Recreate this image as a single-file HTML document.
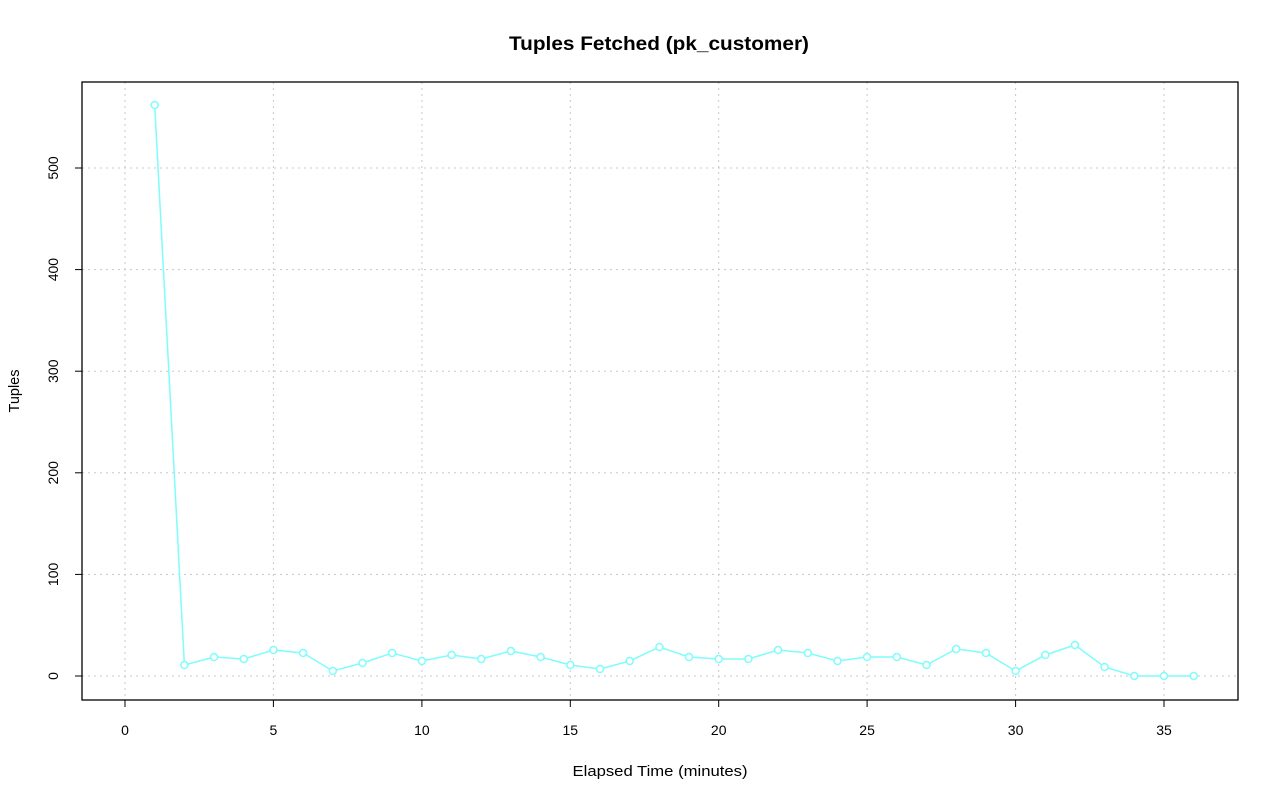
<!DOCTYPE html>
<html><head><meta charset="utf-8"><style>body{margin:0;background:#fff}svg{display:block}</style></head><body>
<svg width="1280" height="801" xmlns="http://www.w3.org/2000/svg" font-family="Liberation Sans, sans-serif">
<rect width="1280" height="801" fill="#fff"/>
<text x="659" y="50" text-anchor="middle" font-size="19.5" font-weight="bold" textLength="300" lengthAdjust="spacingAndGlyphs">Tuples Fetched (pk_customer)</text>
<g stroke="#c8c8c8" stroke-dasharray="2,4" stroke-width="1">
<line x1="125" y1="82" x2="125" y2="700"/><line x1="273.4" y1="82" x2="273.4" y2="700"/><line x1="421.9" y1="82" x2="421.9" y2="700"/><line x1="570.3" y1="82" x2="570.3" y2="700"/><line x1="718.7" y1="82" x2="718.7" y2="700"/><line x1="867.1" y1="82" x2="867.1" y2="700"/><line x1="1015.6" y1="82" x2="1015.6" y2="700"/><line x1="1164" y1="82" x2="1164" y2="700"/>
<line x1="82" y1="676" x2="1238" y2="676"/><line x1="82" y1="574.4" x2="1238" y2="574.4"/><line x1="82" y1="472.8" x2="1238" y2="472.8"/><line x1="82" y1="371.2" x2="1238" y2="371.2"/><line x1="82" y1="269.6" x2="1238" y2="269.6"/><line x1="82" y1="168" x2="1238" y2="168"/>
</g>
<rect x="82" y="82" width="1156" height="618" fill="none" stroke="#000" stroke-width="1.3"/>
<g stroke="#000"><line x1="125" y1="700" x2="1164" y2="700"/>
<line x1="125" y1="700" x2="125" y2="707"/><line x1="273.4" y1="700" x2="273.4" y2="707"/><line x1="421.9" y1="700" x2="421.9" y2="707"/><line x1="570.3" y1="700" x2="570.3" y2="707"/><line x1="718.7" y1="700" x2="718.7" y2="707"/><line x1="867.1" y1="700" x2="867.1" y2="707"/><line x1="1015.6" y1="700" x2="1015.6" y2="707"/><line x1="1164" y1="700" x2="1164" y2="707"/>
<line x1="82" y1="676" x2="82" y2="168"/>
<line x1="75" y1="676" x2="82" y2="676"/><line x1="75" y1="574.4" x2="82" y2="574.4"/><line x1="75" y1="472.8" x2="82" y2="472.8"/><line x1="75" y1="371.2" x2="82" y2="371.2"/><line x1="75" y1="269.6" x2="82" y2="269.6"/><line x1="75" y1="168" x2="82" y2="168"/></g>
<g font-size="14" text-anchor="middle">
<text x="125" y="735">0</text><text x="273.4" y="735">5</text><text x="421.9" y="735">10</text><text x="570.3" y="735">15</text><text x="718.7" y="735">20</text><text x="867.1" y="735">25</text><text x="1015.6" y="735">30</text><text x="1164" y="735">35</text>
<text transform="translate(58,676) rotate(-90)">0</text><text transform="translate(58,574.4) rotate(-90)">100</text><text transform="translate(58,472.8) rotate(-90)">200</text><text transform="translate(58,371.2) rotate(-90)">300</text><text transform="translate(58,269.6) rotate(-90)">400</text><text transform="translate(58,168) rotate(-90)">500</text>
<text x="660" y="776" font-size="14.5" textLength="175" lengthAdjust="spacingAndGlyphs">Elapsed Time (minutes)</text>
<text transform="translate(19,391) rotate(-90)" font-size="14.5">Tuples</text>
</g>
<g stroke="#7ffcfc" stroke-width="1.5" fill="#fff">
<polyline fill="none" points="154.7,105 184.4,665 214.1,657 243.8,659 273.4,650 303.1,653 332.8,671 362.5,663 392.2,653 421.9,661 451.6,655 481.2,659 510.9,651 540.6,657 570.3,665 600,669 629.7,661 659.4,647 689,657 718.7,659 748.4,659 778.1,650 807.8,653 837.5,661 867.1,657 896.8,657 926.5,665 956.2,649 985.9,653 1015.6,671 1045.3,655 1074.9,645 1104.6,667 1134.3,676 1164,676 1193.7,676"/>
<circle cx="154.7" cy="105" r="3.5"/><circle cx="184.4" cy="665" r="3.5"/><circle cx="214.1" cy="657" r="3.5"/><circle cx="243.8" cy="659" r="3.5"/><circle cx="273.4" cy="650" r="3.5"/><circle cx="303.1" cy="653" r="3.5"/><circle cx="332.8" cy="671" r="3.5"/><circle cx="362.5" cy="663" r="3.5"/><circle cx="392.2" cy="653" r="3.5"/><circle cx="421.9" cy="661" r="3.5"/><circle cx="451.6" cy="655" r="3.5"/><circle cx="481.2" cy="659" r="3.5"/><circle cx="510.9" cy="651" r="3.5"/><circle cx="540.6" cy="657" r="3.5"/><circle cx="570.3" cy="665" r="3.5"/><circle cx="600" cy="669" r="3.5"/><circle cx="629.7" cy="661" r="3.5"/><circle cx="659.4" cy="647" r="3.5"/><circle cx="689" cy="657" r="3.5"/><circle cx="718.7" cy="659" r="3.5"/><circle cx="748.4" cy="659" r="3.5"/><circle cx="778.1" cy="650" r="3.5"/><circle cx="807.8" cy="653" r="3.5"/><circle cx="837.5" cy="661" r="3.5"/><circle cx="867.1" cy="657" r="3.5"/><circle cx="896.8" cy="657" r="3.5"/><circle cx="926.5" cy="665" r="3.5"/><circle cx="956.2" cy="649" r="3.5"/><circle cx="985.9" cy="653" r="3.5"/><circle cx="1015.6" cy="671" r="3.5"/><circle cx="1045.3" cy="655" r="3.5"/><circle cx="1074.9" cy="645" r="3.5"/><circle cx="1104.6" cy="667" r="3.5"/><circle cx="1134.3" cy="676" r="3.5"/><circle cx="1164" cy="676" r="3.5"/><circle cx="1193.7" cy="676" r="3.5"/>
</g>
</svg>
</body></html>
